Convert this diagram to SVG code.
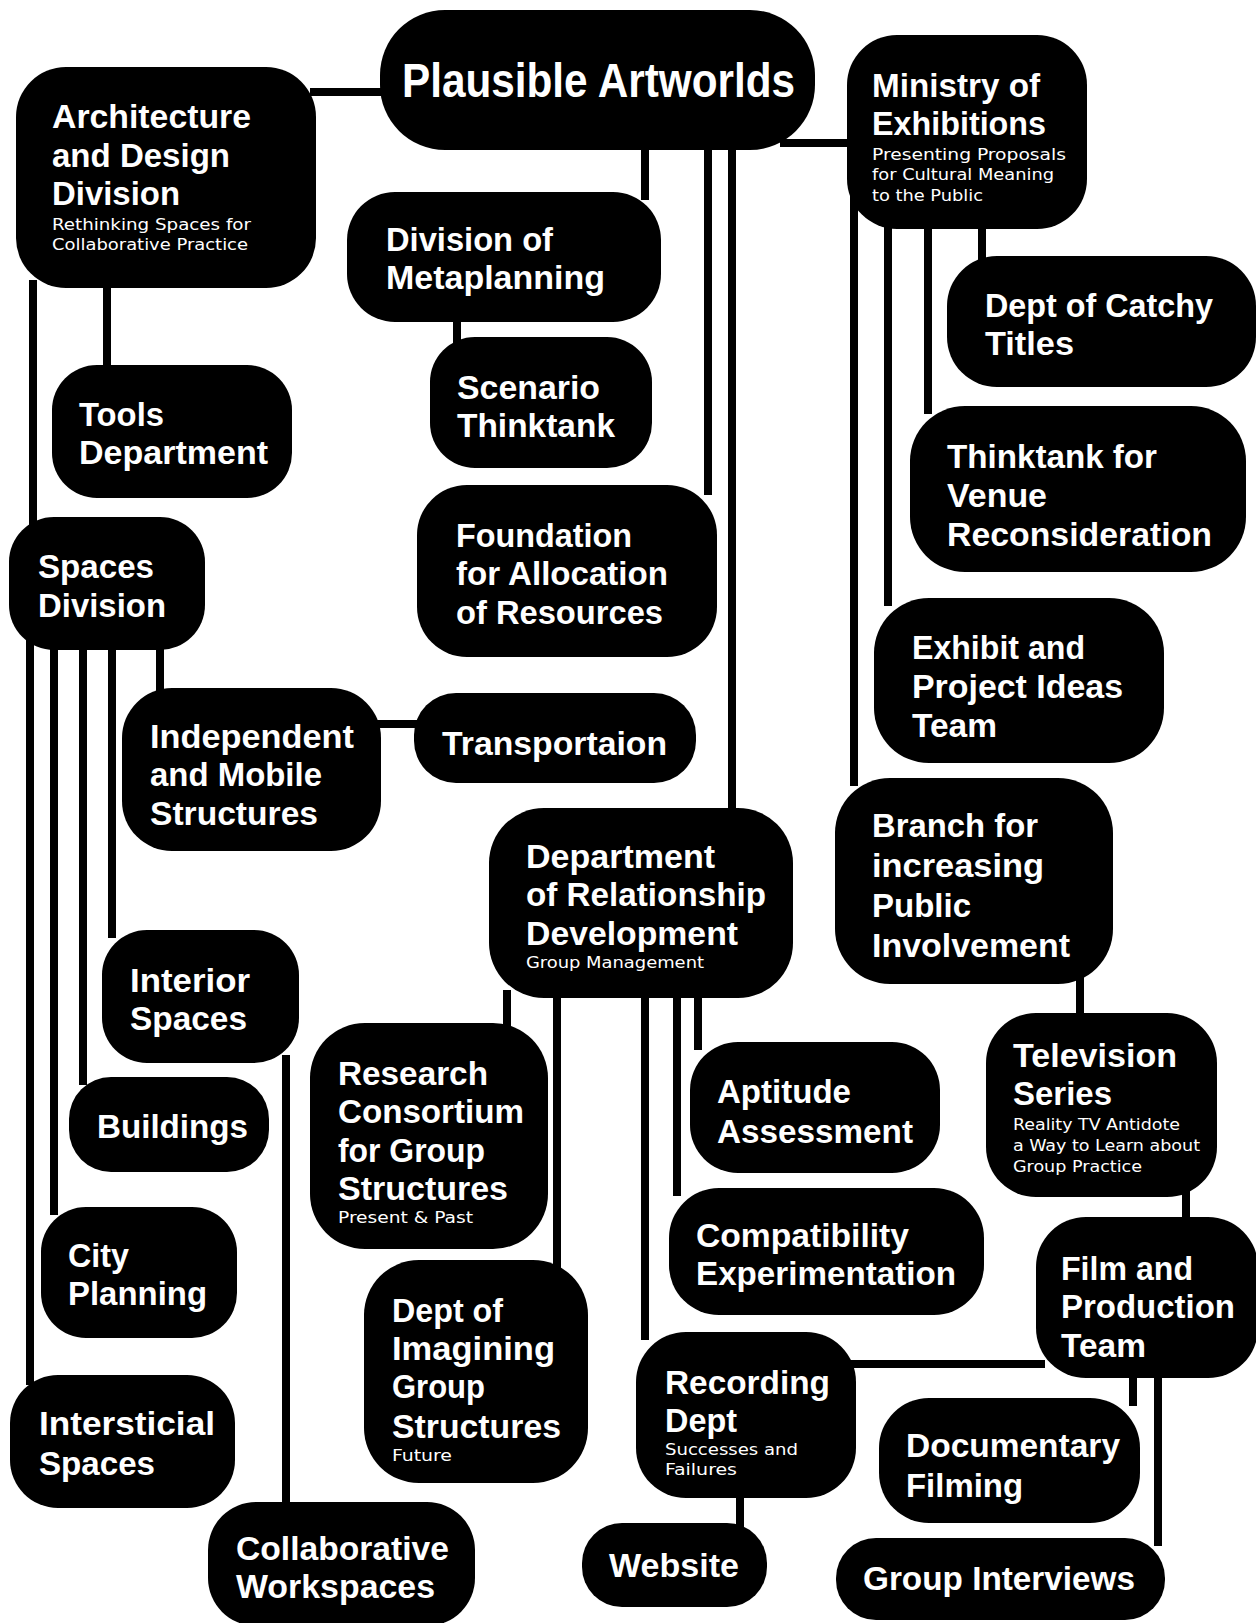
<svg xmlns="http://www.w3.org/2000/svg" width="1256" height="1623" viewBox="0 0 1256 1623">
<style>
.n rect{fill:#000}
.t{font-family:"Liberation Sans",Arial,sans-serif;font-weight:bold;font-size:33px;fill:#fff}
.b{font-size:48px}
.s{font-family:"DejaVu Sans Condensed","Liberation Sans",sans-serif;font-weight:normal;font-size:16px}
#connectors line{stroke:#000;stroke-width:8;fill:none}
</style>
<rect width="1256" height="1623" fill="#fff"/>
<g id="connectors">
<line x1="310" y1="92" x2="390" y2="92"/>
<line x1="780" y1="143" x2="855" y2="143"/>
<line x1="645" y1="140" x2="645" y2="200"/>
<line x1="708" y1="140" x2="708" y2="495"/>
<line x1="732" y1="140" x2="732" y2="815"/>
<line x1="457" y1="315" x2="457" y2="345"/>
<line x1="107" y1="280" x2="107" y2="372"/>
<line x1="33" y1="280" x2="33" y2="525"/>
<line x1="30" y1="640" x2="30" y2="1385"/>
<line x1="54" y1="640" x2="54" y2="1215"/>
<line x1="83" y1="640" x2="83" y2="1085"/>
<line x1="112" y1="640" x2="112" y2="938"/>
<line x1="160" y1="640" x2="160" y2="696"/>
<line x1="375" y1="724" x2="420" y2="724"/>
<line x1="286" y1="1055" x2="286" y2="1510"/>
<line x1="507" y1="990" x2="507" y2="1030"/>
<line x1="557" y1="990" x2="557" y2="1268"/>
<line x1="645" y1="990" x2="645" y2="1340"/>
<line x1="677" y1="990" x2="677" y2="1196"/>
<line x1="698" y1="990" x2="698" y2="1050"/>
<line x1="982" y1="222" x2="982" y2="264"/>
<line x1="928" y1="222" x2="928" y2="414"/>
<line x1="888" y1="222" x2="888" y2="606"/>
<line x1="854" y1="143" x2="854" y2="786"/>
<line x1="1080" y1="975" x2="1080" y2="1022"/>
<line x1="1186" y1="1190" x2="1186" y2="1225"/>
<line x1="850" y1="1364" x2="1045" y2="1364"/>
<line x1="1133" y1="1370" x2="1133" y2="1406"/>
<line x1="1158" y1="1370" x2="1158" y2="1546"/>
<line x1="740" y1="1490" x2="740" y2="1530"/>
</g>

<g id="plausible" class="n"><rect x="380" y="10" width="435" height="140" rx="65"/>
<text class="t b"><tspan x="402" y="97" textLength="393" lengthAdjust="spacingAndGlyphs">Plausible Artworlds</tspan></text></g>

<g id="arch" class="n"><rect x="16" y="67" width="300" height="221" rx="50"/>
<text class="t"><tspan x="52" y="128" textLength="199" lengthAdjust="spacingAndGlyphs">Architecture</tspan><tspan x="52" y="167" textLength="178" lengthAdjust="spacingAndGlyphs">and Design</tspan><tspan x="52" y="205" textLength="128" lengthAdjust="spacingAndGlyphs">Division</tspan><tspan class="s" x="52" y="230" textLength="199" lengthAdjust="spacingAndGlyphs">Rethinking Spaces for</tspan><tspan class="s" x="52" y="250" textLength="196" lengthAdjust="spacingAndGlyphs">Collaborative Practice</tspan></text></g>

<g id="ministry" class="n"><rect x="847" y="35" width="240" height="194" rx="50"/>
<text class="t"><tspan x="872" y="97" textLength="168" lengthAdjust="spacingAndGlyphs">Ministry of</tspan><tspan x="872" y="135" textLength="174" lengthAdjust="spacingAndGlyphs">Exhibitions</tspan><tspan class="s" x="872" y="160" textLength="194" lengthAdjust="spacingAndGlyphs">Presenting Proposals</tspan><tspan class="s" x="872" y="180" textLength="182" lengthAdjust="spacingAndGlyphs">for Cultural Meaning</tspan><tspan class="s" x="872" y="201" textLength="111" lengthAdjust="spacingAndGlyphs">to the Public</tspan></text></g>

<g id="metaplanning" class="n"><rect x="347" y="192" width="314" height="130" rx="48"/>
<text class="t"><tspan x="386" y="251" textLength="167" lengthAdjust="spacingAndGlyphs">Division of</tspan><tspan x="386" y="289" textLength="219" lengthAdjust="spacingAndGlyphs">Metaplanning</tspan></text></g>

<g id="scenario" class="n"><rect x="430" y="337" width="222" height="131" rx="45"/>
<text class="t"><tspan x="457" y="399" textLength="143" lengthAdjust="spacingAndGlyphs">Scenario</tspan><tspan x="457" y="437" textLength="158" lengthAdjust="spacingAndGlyphs">Thinktank</tspan></text></g>

<g id="foundation" class="n"><rect x="417" y="485" width="300" height="172" rx="50"/>
<text class="t"><tspan x="456" y="547" textLength="176" lengthAdjust="spacingAndGlyphs">Foundation</tspan><tspan x="456" y="585" textLength="212" lengthAdjust="spacingAndGlyphs">for Allocation</tspan><tspan x="456" y="624" textLength="207" lengthAdjust="spacingAndGlyphs">of Resources</tspan></text></g>

<g id="tools" class="n"><rect x="52" y="365" width="240" height="133" rx="45"/>
<text class="t"><tspan x="79" y="426" textLength="85" lengthAdjust="spacingAndGlyphs">Tools</tspan><tspan x="79" y="464" textLength="189" lengthAdjust="spacingAndGlyphs">Department</tspan></text></g>

<g id="spaces" class="n"><rect x="9" y="517" width="196" height="133" rx="45"/>
<text class="t"><tspan x="38" y="578" textLength="116" lengthAdjust="spacingAndGlyphs">Spaces</tspan><tspan x="38" y="617" textLength="128" lengthAdjust="spacingAndGlyphs">Division</tspan></text></g>

<g id="independent" class="n"><rect x="122" y="688" width="259" height="163" rx="50"/>
<text class="t"><tspan x="150" y="748" textLength="204" lengthAdjust="spacingAndGlyphs">Independent</tspan><tspan x="150" y="786" textLength="172" lengthAdjust="spacingAndGlyphs">and Mobile</tspan><tspan x="150" y="825" textLength="168" lengthAdjust="spacingAndGlyphs">Structures</tspan></text></g>

<g id="transportaion" class="n"><rect x="414" y="693" width="282" height="90" rx="42"/>
<text class="t"><tspan x="442" y="755" textLength="225" lengthAdjust="spacingAndGlyphs">Transportaion</tspan></text></g>

<g id="catchy" class="n"><rect x="947" y="256" width="309" height="131" rx="50"/>
<text class="t"><tspan x="985" y="317" textLength="228" lengthAdjust="spacingAndGlyphs">Dept of Catchy</tspan><tspan x="985" y="355" textLength="89" lengthAdjust="spacingAndGlyphs">Titles</tspan></text></g>

<g id="venue" class="n"><rect x="910" y="406" width="336" height="166" rx="55"/>
<text class="t"><tspan x="947" y="468" textLength="210" lengthAdjust="spacingAndGlyphs">Thinktank for</tspan><tspan x="947" y="507" textLength="100" lengthAdjust="spacingAndGlyphs">Venue</tspan><tspan x="947" y="546" textLength="265" lengthAdjust="spacingAndGlyphs">Reconsideration</tspan></text></g>

<g id="exhibit" class="n"><rect x="874" y="598" width="290" height="165" rx="55"/>
<text class="t"><tspan x="912" y="659" textLength="173" lengthAdjust="spacingAndGlyphs">Exhibit and</tspan><tspan x="912" y="698" textLength="211" lengthAdjust="spacingAndGlyphs">Project Ideas</tspan><tspan x="912" y="737" textLength="85" lengthAdjust="spacingAndGlyphs">Team</tspan></text></g>

<g id="branch" class="n"><rect x="835" y="778" width="278" height="206" rx="55"/>
<text class="t"><tspan x="872" y="837" textLength="166" lengthAdjust="spacingAndGlyphs">Branch for</tspan><tspan x="872" y="877" textLength="172" lengthAdjust="spacingAndGlyphs">increasing</tspan><tspan x="872" y="917" textLength="99" lengthAdjust="spacingAndGlyphs">Public</tspan><tspan x="872" y="957" textLength="198" lengthAdjust="spacingAndGlyphs">Involvement</tspan></text></g>

<g id="relationship" class="n"><rect x="489" y="808" width="304" height="190" rx="55"/>
<text class="t"><tspan x="526" y="868" textLength="189" lengthAdjust="spacingAndGlyphs">Department</tspan><tspan x="526" y="906" textLength="240" lengthAdjust="spacingAndGlyphs">of Relationship</tspan><tspan x="526" y="945" textLength="212" lengthAdjust="spacingAndGlyphs">Development</tspan><tspan class="s" x="526" y="968" textLength="178" lengthAdjust="spacingAndGlyphs">Group Management</tspan></text></g>

<g id="interior" class="n"><rect x="102" y="930" width="197" height="133" rx="45"/>
<text class="t"><tspan x="130" y="992" textLength="120" lengthAdjust="spacingAndGlyphs">Interior</tspan><tspan x="130" y="1030" textLength="117" lengthAdjust="spacingAndGlyphs">Spaces</tspan></text></g>

<g id="buildings" class="n"><rect x="69" y="1077" width="200" height="95" rx="42"/>
<text class="t"><tspan x="97" y="1138" textLength="151" lengthAdjust="spacingAndGlyphs">Buildings</tspan></text></g>

<g id="research" class="n"><rect x="310" y="1023" width="238" height="226" rx="55"/>
<text class="t"><tspan x="338" y="1085" textLength="150" lengthAdjust="spacingAndGlyphs">Research</tspan><tspan x="338" y="1123" textLength="186" lengthAdjust="spacingAndGlyphs">Consortium</tspan><tspan x="338" y="1162" textLength="147" lengthAdjust="spacingAndGlyphs">for Group</tspan><tspan x="338" y="1200" textLength="170" lengthAdjust="spacingAndGlyphs">Structures</tspan><tspan class="s" x="338" y="1223" textLength="135" lengthAdjust="spacingAndGlyphs">Present &amp; Past</tspan></text></g>

<g id="aptitude" class="n"><rect x="690" y="1042" width="250" height="131" rx="48"/>
<text class="t"><tspan x="717" y="1103" textLength="134" lengthAdjust="spacingAndGlyphs">Aptitude</tspan><tspan x="717" y="1143" textLength="196" lengthAdjust="spacingAndGlyphs">Assessment</tspan></text></g>

<g id="television" class="n"><rect x="986" y="1013" width="231" height="184" rx="50"/>
<text class="t"><tspan x="1013" y="1067" textLength="164" lengthAdjust="spacingAndGlyphs">Television</tspan><tspan x="1013" y="1105" textLength="99" lengthAdjust="spacingAndGlyphs">Series</tspan><tspan class="s" x="1013" y="1130" textLength="167" lengthAdjust="spacingAndGlyphs">Reality TV Antidote</tspan><tspan class="s" x="1013" y="1151" textLength="187" lengthAdjust="spacingAndGlyphs">a Way to Learn about</tspan><tspan class="s" x="1013" y="1172" textLength="129" lengthAdjust="spacingAndGlyphs">Group Practice</tspan></text></g>

<g id="compatibility" class="n"><rect x="669" y="1188" width="315" height="127" rx="50"/>
<text class="t"><tspan x="696" y="1247" textLength="213" lengthAdjust="spacingAndGlyphs">Compatibility</tspan><tspan x="696" y="1285" textLength="260" lengthAdjust="spacingAndGlyphs">Experimentation</tspan></text></g>

<g id="city" class="n"><rect x="41" y="1207" width="196" height="131" rx="45"/>
<text class="t"><tspan x="68" y="1267" textLength="61" lengthAdjust="spacingAndGlyphs">City</tspan><tspan x="68" y="1305" textLength="139" lengthAdjust="spacingAndGlyphs">Planning</tspan></text></g>

<g id="imagining" class="n"><rect x="364" y="1260" width="224" height="223" rx="55"/>
<text class="t"><tspan x="392" y="1322" textLength="111" lengthAdjust="spacingAndGlyphs">Dept of</tspan><tspan x="392" y="1360" textLength="163" lengthAdjust="spacingAndGlyphs">Imagining</tspan><tspan x="392" y="1398" textLength="93" lengthAdjust="spacingAndGlyphs">Group</tspan><tspan x="392" y="1438" textLength="169" lengthAdjust="spacingAndGlyphs">Structures</tspan><tspan class="s" x="392" y="1461" textLength="60" lengthAdjust="spacingAndGlyphs">Future</tspan></text></g>

<g id="film" class="n"><rect x="1036" y="1217" width="222" height="161" rx="50"/>
<text class="t"><tspan x="1061" y="1280" textLength="132" lengthAdjust="spacingAndGlyphs">Film and</tspan><tspan x="1061" y="1318" textLength="174" lengthAdjust="spacingAndGlyphs">Production</tspan><tspan x="1061" y="1357" textLength="85" lengthAdjust="spacingAndGlyphs">Team</tspan></text></g>

<g id="recording" class="n"><rect x="636" y="1332" width="220" height="166" rx="50"/>
<text class="t"><tspan x="665" y="1394" textLength="165" lengthAdjust="spacingAndGlyphs">Recording</tspan><tspan x="665" y="1432" textLength="72" lengthAdjust="spacingAndGlyphs">Dept</tspan><tspan class="s" x="665" y="1455" textLength="133" lengthAdjust="spacingAndGlyphs">Successes and</tspan><tspan class="s" x="665" y="1475" textLength="72" lengthAdjust="spacingAndGlyphs">Failures</tspan></text></g>

<g id="documentary" class="n"><rect x="879" y="1398" width="261" height="125" rx="50"/>
<text class="t"><tspan x="906" y="1457" textLength="214" lengthAdjust="spacingAndGlyphs">Documentary</tspan><tspan x="906" y="1497" textLength="117" lengthAdjust="spacingAndGlyphs">Filming</tspan></text></g>

<g id="interviews" class="n"><rect x="836" y="1538" width="329" height="82" rx="40"/>
<text class="t"><tspan x="863" y="1590" textLength="272" lengthAdjust="spacingAndGlyphs">Group Interviews</tspan></text></g>

<g id="intersticial" class="n"><rect x="10" y="1375" width="225" height="133" rx="48"/>
<text class="t"><tspan x="39" y="1435" textLength="176" lengthAdjust="spacingAndGlyphs">Intersticial</tspan><tspan x="39" y="1475" textLength="116" lengthAdjust="spacingAndGlyphs">Spaces</tspan></text></g>

<g id="collaborative" class="n"><rect x="208" y="1502" width="267" height="124" rx="48"/>
<text class="t"><tspan x="236" y="1560" textLength="213" lengthAdjust="spacingAndGlyphs">Collaborative</tspan><tspan x="236" y="1598" textLength="199" lengthAdjust="spacingAndGlyphs">Workspaces</tspan></text></g>

<g id="website" class="n"><rect x="582" y="1523" width="185" height="84" rx="40"/>
<text class="t"><tspan x="609" y="1577" textLength="130" lengthAdjust="spacingAndGlyphs">Website</tspan></text></g>
</svg>
